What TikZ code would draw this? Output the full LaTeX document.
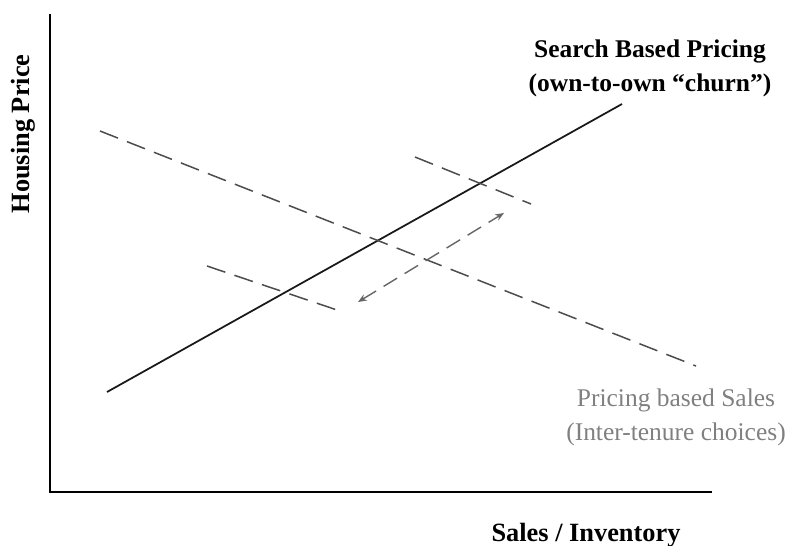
\documentclass[tikz,border=0pt]{standalone}
\usepackage{fontspec}
\setmainfont{Liberation Serif}
\usepackage{tikz}
\usetikzlibrary{arrows.meta}

\begin{document}
\begin{tikzpicture}[
    x=0.02cm, y=-0.02cm,
    axis/.style={line width=1.3pt, black},
    supply/.style={line width=1pt, black!90},
    curve/.style={line width=0.85pt, black!70, dash pattern=on 11pt off 5.5pt},
    moveline/.style={line width=0.8pt, black!60, dash pattern=on 9pt off 5pt, {Stealth[length=5pt,width=4pt]}-{Stealth[length=5pt,width=4pt]}},
    txt/.style={font=\fontsize{14.5}{19}\selectfont, align=center, inner sep=0pt},
    every node/.style={inner sep=0pt}
]
\useasboundingbox (0,0) rectangle (801,545);

% axes
\coordinate (origin) at (50,492);
\coordinate (ytop) at (50,14);
\coordinate (xend) at (712,492);
\draw[axis] (ytop) -- (origin) -- (xend);
\node[txt, font=\bfseries\fontsize{15}{18}\selectfont, rotate=90] (ylab) at (23,134) {Housing Price};
\node[txt, font=\bfseries\fontsize{15}{18}\selectfont, anchor=base] (xlab) at (586,541) {Sales / Inventory};

% search based pricing
\coordinate (sbpA) at (107,392);
\coordinate (sbpB) at (622,104);
\draw[supply] (sbpA) -- (sbpB);
\node[txt, font=\bfseries\fontsize{14.5}{19}\selectfont, anchor=base] (sbp) at (650,91) {Search Based Pricing\\(own-to-own “churn”)};

% pricing based sales
\coordinate (pbsA) at (100,131);
\coordinate (pbsB) at (696,366);
\draw[curve] (pbsA) -- (pbsB);
\coordinate (hiA) at (415,157);
\coordinate (hiB) at (531,204);
\draw[curve] (hiA) -- (hiB);
\coordinate (loA) at (207,266);
\coordinate (loB) at (340,311);
\draw[curve] (loA) -- (loB);
\node[txt, text=black!50, anchor=base] (pbs) at (676,440) {Pricing based Sales\\(Inter-tenure choices)};

% shift
\coordinate (shA) at (358,302);
\coordinate (shB) at (504,213);
\draw[moveline] (shA) -- (shB);
\end{tikzpicture}
\end{document}
